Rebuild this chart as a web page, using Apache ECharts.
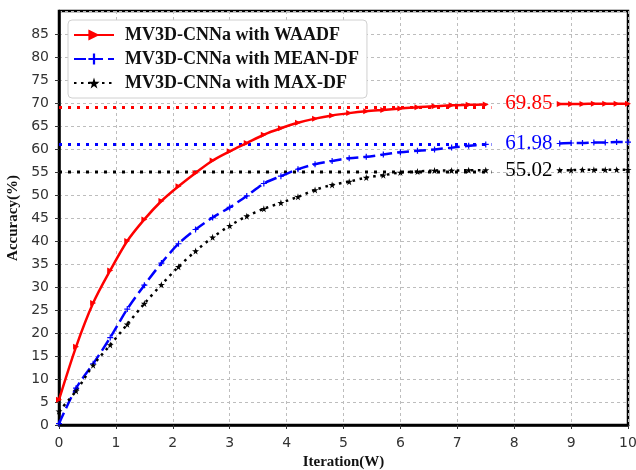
<!DOCTYPE html>
<html>
<head>
<meta charset="utf-8">
<script src="https://cdn.jsdelivr.net/npm/echarts@6/dist/echarts.min.js"></script>
<style>
  html, body { margin: 0; padding: 0; background: #fff; }
  #chart { width: 636px; height: 470px; }
</style>
</head>
<body>
<div id="chart"></div>
<script>
// iterations (W), left part of each curve and the part after the value label
const itersLeft = [0, 0.3, 0.6, 0.9, 1.2, 1.5, 1.8, 2.1, 2.4, 2.7, 3.0, 3.3, 3.6, 3.9,
  4.2, 4.5, 4.8, 5.1, 5.4, 5.7, 6.0, 6.3, 6.6, 6.9, 7.2, 7.5];
const itersRight = [8.8, 9.0, 9.2, 9.4, 9.6, 9.8, 10.0];

const waadfLeft = [5.5, 17, 26.5, 33.6, 40, 44.7, 48.7, 51.9, 54.8, 57.5, 59.5, 61.3, 63.1, 64.5,
  65.7, 66.6, 67.3, 67.8, 68.2, 68.5, 68.8, 69.1, 69.3, 69.5, 69.6, 69.7];
const waadfRight = [69.8, 69.8, 69.8, 69.85, 69.85, 69.85, 69.85];

const meanLeft = [0.3, 8, 13.3, 19, 25.2, 30.4, 35.2, 39.4, 42.5, 45.1, 47.3, 49.8, 52.5, 54.1,
  55.6, 56.7, 57.4, 58.0, 58.3, 58.8, 59.3, 59.6, 59.9, 60.3, 60.7, 61.0];
const meanRight = [61.2, 61.3, 61.3, 61.4, 61.4, 61.5, 61.5];

const maxLeft = [3, 7.4, 13, 17.4, 21.9, 26.4, 30.5, 34.4, 37.8, 40.8, 43.3, 45.4, 47, 48.3,
  49.6, 51.1, 52.2, 52.9, 53.8, 54.3, 54.9, 55.1, 55.3, 55.3, 55.4, 55.4];
const maxRight = [55.4, 55.4, 55.5, 55.5, 55.5, 55.5, 55.5];

const names = ['MV3D-CNNa with WAADF', 'MV3D-CNNa with MEAN-DF', 'MV3D-CNNa with MAX-DF'];
const colors = ['#ff0000', '#0000ff', '#000000'];

// dotted reference levels and where they stop
const refLevels = [69, 61, 55];
const refRange = [0, 7.6];

// final value labels
const finalLabels = ['69.85', '61.98', '55.02'];
const labelX = 8.26;
const labelY = [70, 61.3, 55.4];

const yTicks = { min: 0, max: 90, step: 5 };
const xTicks = { min: 0, max: 10, step: 1 };

const zip = (xs, ys) => xs.map((x, i) => [x, ys[i]]);

const STAR = 'path://M50,0 L61,35 L98,35 L68,57 L79,91 L50,70 L21,91 L32,57 L2,35 L39,35 Z';
const PLUS = 'path://M40,0 H60 V40 H100 V60 H60 V100 H40 V60 H0 V40 H40 Z';

const styles = [
  { line: 'solid', symbol: 'triangle', rotate: -90, size: 6 },
  { line: [12, 5], symbol: PLUS, rotate: 0, size: 6 },
  { line: [2.5, 4.5], symbol: STAR, rotate: 0, size: 7 }
];
const curves = [[waadfLeft, waadfRight], [meanLeft, meanRight], [maxLeft, maxRight]];

const series = [];
curves.forEach((parts, k) => {
  [zip(itersLeft, parts[0]), zip(itersRight, parts[1])].forEach((data) => {
    series.push({
      name: names[k],
      type: 'line',
      data: data,
      smooth: 0.3,
      symbol: styles[k].symbol,
      symbolRotate: styles[k].rotate,
      symbolSize: styles[k].size,
      showAllSymbol: true,
      itemStyle: { color: colors[k] },
      lineStyle: { color: colors[k], width: 2.5, type: styles[k].line },
      z: 3
    });
  });
  series.push({
    type: 'line',
    data: [[refRange[0], refLevels[k]], [refRange[1], refLevels[k]]],
    symbol: 'none',
    lineStyle: { color: colors[k], width: 3, type: [3, 6] },
    z: 2
  });
  series.push({
    type: 'scatter',
    data: [[labelX, labelY[k]]],
    symbolSize: 0,
    itemStyle: { opacity: 1 },
    label: {
      show: true,
      position: 'inside',
      formatter: finalLabels[k],
      color: colors[k],
      fontFamily: 'Liberation Serif',
      fontSize: 21
    },
    z: 4
  });
});

const chart = echarts.init(document.getElementById('chart'), null, { renderer: 'canvas' });
chart.setOption({
  animation: false,
  grid: {
    left: 59, right: 8, top: 11, bottom: 45,
    containLabel: false, outerBoundsMode: 'none',
    show: true, borderColor: '#000', borderWidth: 2.5
  },
  legend: {
    data: names,
    orient: 'vertical',
    left: 68, top: 20,
    itemWidth: 40, itemHeight: 14, itemGap: 6,
    padding: [6, 8, 6, 5],
    backgroundColor: '#fff',
    borderColor: '#d0d0d0', borderWidth: 1, borderRadius: 4,
    textStyle: { fontFamily: 'Liberation Serif', fontWeight: 'bold', fontSize: 18, color: '#111', padding: [0, 0, 0, 6] }
  },
  xAxis: {
    type: 'value',
    min: xTicks.min, max: xTicks.max, interval: xTicks.step,
    name: 'Iteration(W)',
    nameLocation: 'middle', nameGap: 27,
    nameTextStyle: { fontFamily: 'Liberation Serif', fontWeight: 'bold', fontSize: 15, color: '#111' },
    axisLine: { lineStyle: { color: '#000', width: 2.5 } },
    axisTick: { show: true, length: 4, lineStyle: { color: '#333' } },
    axisLabel: { fontFamily: 'DejaVu Sans', fontSize: 14, color: '#333', margin: 11 },
    splitLine: { lineStyle: { color: '#bdbdbd', type: [3, 3], width: 1 } }
  },
  yAxis: {
    type: 'value',
    min: yTicks.min, max: yTicks.max, interval: yTicks.step,
    name: 'Accuracy(%)',
    nameLocation: 'middle', nameGap: 38,
    nameTextStyle: { fontFamily: 'Liberation Serif', fontWeight: 'bold', fontSize: 15, color: '#111' },
    axisLine: { lineStyle: { color: '#000', width: 2.5 } },
    axisTick: { show: true, length: 4, lineStyle: { color: '#333' } },
    axisLabel: { fontFamily: 'DejaVu Sans', fontSize: 14, color: '#333', margin: 10, showMaxLabel: false },
    splitLine: { lineStyle: { color: '#bdbdbd', type: [3, 3], width: 1 } }
  },
  series: series
});
</script>
</body>
</html>
